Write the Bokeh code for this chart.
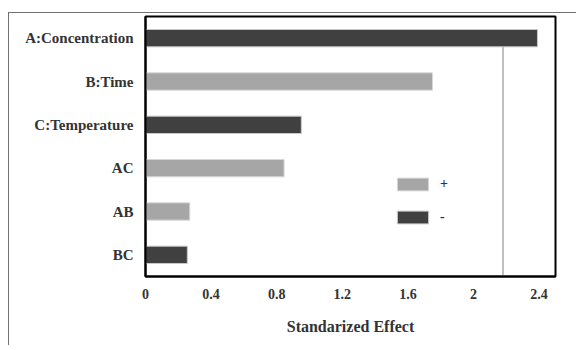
from bokeh.plotting import figure
from bokeh.models import (ColumnDataSource, FactorRange, Range1d, Legend, LegendItem,
                          FixedTicker, NumeralTickFormatter)
from bokeh.embed import file_html
from bokeh.resources import INLINE

factors = ["A:Concentration", "B:Time", "C:Temperature", "AC", "AB", "BC"]
effects = [2.39, 1.75, 0.95, 0.845, 0.27, 0.255]
signs = ["-", "+", "-", "+", "+", "-"]
critical = 2.18
x_ticks = [0, 0.4, 0.8, 1.2, 1.6, 2.0, 2.4]

DARK = "#404040"
LIGHT = "#a6a6a6"
FONT = "Liberation Serif"

pos = ColumnDataSource(dict(f=[f for f, s in zip(factors, signs) if s == "+"],
                            v=[v for v, s in zip(effects, signs) if s == "+"]))
neg = ColumnDataSource(dict(f=[f for f, s in zip(factors, signs) if s == "-"],
                            v=[v for v, s in zip(effects, signs) if s == "-"]))

p = figure(width=568, height=333, output_backend="svg", toolbar_location=None,
           y_range=FactorRange(*factors[::-1], range_padding=0),
           x_range=Range1d(0, 2.5),
           min_border_left=136, min_border_top=3, min_border_right=22, min_border_bottom=70)
p.styles = {"margin-left": "8px", "margin-top": "12px",
            "border-top": "1px solid #707070", "border-left": "1px solid #707070"}

p.segment(x0=[critical], x1=[critical], y0=[0], y1=[5.5], line_color="#808080", line_width=1)

r_pos = p.hbar(y="f", right="v", left=0, height=0.4, source=pos,
               fill_color=LIGHT, line_color="#d8d8d8", line_width=1)
r_neg = p.hbar(y="f", right="v", left=0, height=0.4, source=neg,
               fill_color=DARK, line_color="#c8c8c8", line_width=1)

p.grid.visible = False
p.outline_line_color = "black"
p.outline_line_width = 2
p.background_fill_color = "white"
p.border_fill_color = "white"

xa = p.xaxis[0]
xa.ticker = FixedTicker(ticks=x_ticks)
xa.formatter = NumeralTickFormatter(format="0.[0]")
xa.major_tick_line_color = None
xa.minor_tick_line_color = None
xa.major_tick_out = 0
xa.axis_line_color = "black"
xa.axis_line_width = 2
xa.major_label_standoff = 12
xa.major_label_text_font = FONT
xa.major_label_text_font_style = "bold"
xa.major_label_text_font_size = "14px"
xa.major_label_text_color = "#333333"
xa.axis_label = "Standarized Effect"
xa.axis_label_text_font = FONT
xa.axis_label_text_font_style = "bold"
xa.axis_label_text_font_size = "16px"
xa.axis_label_text_color = "#333333"
xa.axis_label_standoff = 16

ya = p.yaxis[0]
ya.major_tick_line_color = None
ya.minor_tick_line_color = None
ya.major_tick_out = 0
ya.axis_line_color = "black"
ya.axis_line_width = 2
ya.major_label_standoff = 12
ya.major_label_text_font = FONT
ya.major_label_text_font_style = "bold"
ya.major_label_text_font_size = "15px"
ya.major_label_text_color = "#333333"

legend = Legend(items=[LegendItem(label="+", renderers=[r_pos]),
                       LegendItem(label="-", renderers=[r_neg])],
                location=(248, 51), padding=0, margin=0, spacing=17,
                glyph_width=39, glyph_height=16, label_height=16, label_standoff=8,
                border_line_color=None, background_fill_alpha=0,
                label_text_font=FONT, label_text_font_style="bold",
                label_text_font_size="14px", label_text_color="#333333")
p.add_layout(legend)

open("out.html", "w").write(file_html(p, INLINE))
